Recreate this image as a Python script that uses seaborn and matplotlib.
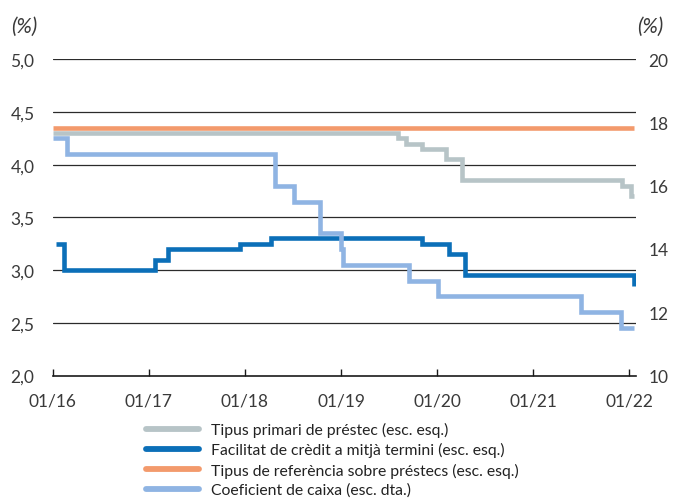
import matplotlib
matplotlib.use("Agg")
import matplotlib.pyplot as plt
import pandas as pd
import seaborn as sns

# Interest rates (left scale, %) as change dates and levels
lpr_dates = ["2016-01-01", "2019-08-05", "2019-09-05", "2019-11-05", "2020-02-05",
             "2020-04-05", "2021-12-05", "2022-01-05"]
lpr_values = [4.30, 4.25, 4.20, 4.15, 4.05, 3.85, 3.80, 3.70]

mlf_dates = ["2016-01-15", "2016-02-15", "2017-01-24", "2017-03-16", "2017-12-14",
             "2018-04-10", "2019-11-05", "2020-02-17", "2020-04-15", "2022-01-17"]
mlf_values = [3.25, 3.00, 3.10, 3.20, 3.25, 3.30, 3.25, 3.15, 2.95, 2.85]

ref_dates = ["2016-01-01"]
ref_values = [4.35]

# Reserve requirement ratio (right scale, %)
rrr_dates = ["2016-01-01", "2016-02-26", "2018-04-25", "2018-07-05", "2018-10-15",
             "2019-01-01", "2019-01-08", "2019-09-16", "2020-01-06", "2021-07-01",
             "2021-12-01"]
rrr_values = [17.5, 17.0, 16.0, 15.5, 14.5, 14.0, 13.5, 13.0, 12.5, 12.0, 11.5]

end_date = "2022-01-20"

labels = ["Tipus primari de préstec (esc. esq.)",
          "Facilitat de crèdit a mitjà termini (esc. esq.)",
          "Tipus de referència sobre préstecs (esc. esq.)",
          "Coeficient de caixa (esc. dta.)"]
colors = ["#b7c4c7", "#0b6fb8", "#f39a6c", "#8fb4e3"]

left_ticks = [2.0, 2.5, 3.0, 3.5, 4.0, 4.5, 5.0]
right_ticks = [10, 12, 14, 16, 18, 20]
year_ticks = ["2016", "2017", "2018", "2019", "2020", "2021", "2022"]
year_labels = ["01/16", "01/17", "01/18", "01/19", "01/20", "01/21", "01/22"]


def step_frame(dates, values):
    """Change points plus a closing point so the last level runs to the end."""
    d = pd.to_datetime(list(dates) + [end_date])
    v = list(values) + [values[-1]]
    return pd.DataFrame({"date": d, "value": v})


sns.set_theme(style="white")
plt.rcParams["font.family"] = ["Lato", "DejaVu Sans"]

text_color = "#3a3a3a"
fig = plt.figure(figsize=(6.83, 5.02), dpi=100)
ax = fig.add_axes([0.0769, 0.250, 0.854, 0.630])
ax2 = ax.twinx()

lw = 3.3
series = [(lpr_dates, lpr_values), (mlf_dates, mlf_values), (ref_dates, ref_values)]
for (d, v), lab, col in zip(series, labels[:3], colors[:3]):
    sns.lineplot(data=step_frame(d, v), x="date", y="value", ax=ax, color=col,
                 linewidth=lw, drawstyle="steps-post", label=lab, legend=False,
                 solid_joinstyle="miter", solid_capstyle="butt")
sns.lineplot(data=step_frame(rrr_dates, rrr_values), x="date", y="value", ax=ax2,
             color=colors[3], linewidth=lw, drawstyle="steps-post", label=labels[3],
             legend=False, solid_joinstyle="miter", solid_capstyle="butt")

# Left scale
ax.set_ylim(2.0, 5.0)
ax.set_yticks(left_ticks)
ax.set_yticklabels([f"{t:.1f}".replace(".", ",") for t in left_ticks])
for t in left_ticks[1:]:
    ax.axhline(t, color="#2b2b2b", linewidth=0.9, zorder=0.5)

# Right scale
ax2.set_ylim(10, 20)
ax2.set_yticks(right_ticks)
ax2.set_yticklabels([str(t) for t in right_ticks])

# Time axis
ax.set_xlim(pd.Timestamp("2016-01-01"), pd.Timestamp("2022-01-25"))
ax.set_xticks(pd.to_datetime(year_ticks))
ax.set_xticklabels(year_labels)

for a in (ax, ax2):
    a.set_xlabel("")
    a.set_ylabel("")
    for s in ("top", "left", "right", "bottom"):
        a.spines[s].set_visible(False)
    a.grid(False)

ax.spines["bottom"].set_visible(True)
ax.spines["bottom"].set_color("#1a1a1a")
ax.spines["bottom"].set_linewidth(1.2)

tick_size = 12.5
ax.tick_params(axis="x", direction="in", length=5, width=1.0, color="#1a1a1a",
               pad=12, labelsize=tick_size, labelcolor=text_color, bottom=True)
ax.tick_params(axis="y", length=0, pad=13, labelsize=tick_size, labelcolor=text_color)
ax2.tick_params(axis="y", length=0, pad=9, labelsize=tick_size, labelcolor=text_color)

fig.text(11 / 683, 1 - 27 / 502, "(%)", fontsize=15, style="italic",
         color=text_color, ha="left", va="center")
fig.text(637 / 683, 1 - 27 / 502, "(%)", fontsize=15, style="italic",
         color=text_color, ha="left", va="center")

handles = [h for h in ax.get_lines() if h.get_label() in labels] + \
          [h for h in ax2.get_lines() if h.get_label() in labels]
leg = fig.legend(handles=handles, labels=labels, loc="upper left",
                 bbox_to_anchor=(146 / 683, 1 - 423 / 502), frameon=False,
                 fontsize=11.3, handlelength=3.4, handletextpad=0.72,
                 labelspacing=0.33, borderpad=0, borderaxespad=0)
for t in leg.get_texts():
    t.set_color("#222222")
for h in leg.get_lines():
    h.set_linewidth(4.2)
    h.set_solid_capstyle("round")

fig.savefig("out.png", dpi=100)
